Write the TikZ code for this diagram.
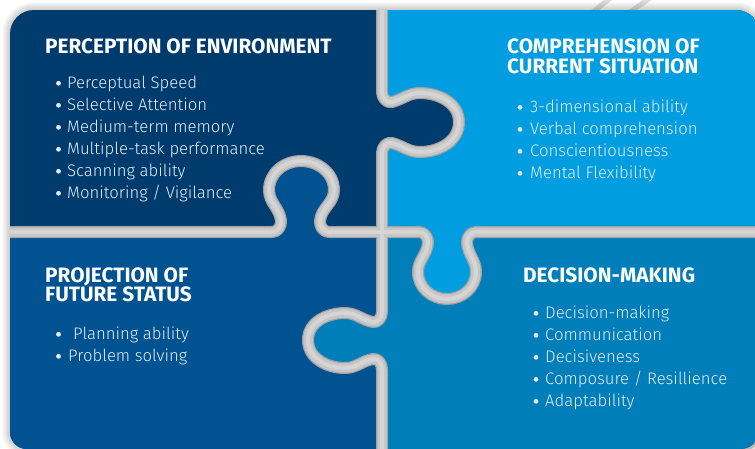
\documentclass[tikz,border=0pt]{standalone}
\usepackage{fontspec}
\setmainfont{Fira Sans}
\newfontfamily\itemfont{Fira Sans Light}

\definecolor{navy}{HTML}{003B6E}
\definecolor{skyblue}{HTML}{009EE0}
\definecolor{midblue}{HTML}{005291}
\definecolor{seablue}{HTML}{007EB9}
\definecolor{bandedge}{HTML}{A2A2A2}
\definecolor{bandmid}{HTML}{C6C6C6}
\definecolor{bandlight}{HTML}{D5D5D5}
\definecolor{itemtext}{HTML}{E4EEF6}
\definecolor{stripegray}{HTML}{DCDCDC}

% outline of the whole puzzle
\newcommand\puzzleoutline{(10,-34) arc[start angle=180,end angle=90,radius=24] -- (736,-10)
  arc[start angle=90,end angle=0,radius=24] -- (760,-429)
  arc[start angle=0,end angle=-90,radius=20] -- (27,-449)
  arc[start angle=270,end angle=180,radius=17] -- cycle}

% horizontal cut, left half: knob of the lower-left piece pointing up
\newcommand\hcutleft{(-10,-232) -- (272,-232) to[out=0,in=-85] (281,-221)
  to[out=95,in=-90] (269,-190) to[out=90,in=180] (301,-161)
  to[out=0,in=90] (334,-190) to[out=-90,in=85] (320,-221)
  to[out=-95,in=180] (329,-232) -- (382,-232)}
% horizontal cut, right half: knob of the upper-right piece pointing down
\newcommand\hcutright{(382,-232) -- (419,-232) to[out=0,in=85] (428,-243)
  to[out=-95,in=90] (418,-272) to[out=-90,in=180] (447,-299)
  to[out=0,in=-90] (476,-272) to[out=90,in=-85] (467,-243)
  to[out=95,in=180] (476,-232) -- (770,-232)}
% vertical cut, upper half: knob of the upper-left piece pointing right
\newcommand\vcuttop{(382,10) -- (382,-92) to[out=-90,in=195] (392,-102)
  to[out=15,in=180] (420,-93) to[out=0,in=90] (459,-122)
  to[out=-90,in=0] (420,-152) to[out=180,in=-15] (392,-143)
  to[out=165,in=90] (382,-153) -- (382,-232)}
% vertical cut, lower half: knob of the lower-right piece pointing left
\newcommand\vcutbottom{(382,-232) -- (382,-312) to[out=-90,in=-10] (373,-322)
  to[out=170,in=0] (345,-313) to[out=180,in=90] (308,-340)
  to[out=-90,in=180] (345,-368) to[out=0,in=190] (373,-359)
  to[out=10,in=90] (382,-369) -- (382,-460)}

\tikzset{
  x=1pt, y=1pt,
  title/.style={anchor=base west, inner sep=0pt, text=white,
    font=\fontsize{20.8}{21}\selectfont\bfseries},
  item/.style={anchor=base west, inner sep=0pt, text=itemtext,
    font=\itemfont\fontsize{16.7}{22}\selectfont},
  dot/.style={fill=itemtext},
  stripe/.style={stripegray, line width=5pt},
}

\begin{document}
\begin{tikzpicture}
\useasboundingbox (0,0) rectangle (755,-448);
\clip (0,0) rectangle (755,-448);
\fill[white] (0,0) rectangle (755,-448);

% background stripes
\draw[stripe] (590,-14) -- (613,4);
\draw[stripe] (627,-14) -- (653,4);
\draw[stripe] (744,-452) -- (762,-437);

% soft shadow around the puzzle
\foreach \w in {2,4,...,16}
  \draw[line width=\w pt, black, opacity=0.022] \puzzleoutline;

\begin{scope}
  \clip \puzzleoutline;
  % upper-left piece
  \fill[navy] (0,20) rectangle (770,-460);
  % lower half
  \fill[seablue] (-10,-232) rectangle (770,-460);
  % lower-left piece
  \fill[midblue] \hcutleft -- \vcutbottom -- (-10,-460) -- cycle;
  % upper-right piece
  \fill[skyblue] \vcuttop -- \hcutright -- (770,10) -- cycle;
  % silver seams between the pieces
  \foreach \c/\w in {bandedge/12, bandmid/9.5, bandlight/4} {
    \draw[line width=\w pt, \c, line join=round] \hcutleft -- \hcutright;
    \draw[line width=\w pt, \c, line join=round] \vcuttop -- \vcutbottom;
  }
\end{scope}

% perception of environment
\node[title] (pe) at (45,-53) {PERCEPTION OF ENVIRONMENT};
\foreach \t [count=\i] in {Perceptual Speed, Selective Attention, Medium-term memory,
    Multiple-task performance, Scanning ability, Monitoring / Vigilance} {
  \node[item] (pe\i) at (67,{-88-22*(\i-1)}) {\t};
  \fill[dot] (pe\i.base west) ++(-8.5,4.7) circle[radius=2.4];
}

% comprehension of current situation
\node[title] (cs1) at (507,-53) {COMPREHENSION OF};
\node[title] (cs2) at (507,-73) {CURRENT SITUATION};
\foreach \t [count=\i] in {3-dimensional ability, Verbal comprehension,
    Conscientiousness, Mental Flexibility} {
  \node[item] (cs\i) at (530,{-112-22*(\i-1)}) {\t};
  \fill[dot] (cs\i.base west) ++(-10,4.7) circle[radius=2.4];
}

% projection of future status
\node[title] (pf1) at (45,-282) {PROJECTION OF};
\node[title] (pf2) at (45,-301) {FUTURE STATUS};
\node[item] (pfa) at (73,-339) {Planning ability};
\fill[dot] (pfa.base west) ++(-14.5,4.7) circle[radius=2.4];
\node[item] (pfb) at (68,-361) {Problem solving};
\fill[dot] (pfb.base west) ++(-9.5,4.7) circle[radius=2.4];

% decision-making
\node[title] (dm) at (523,-282) {DECISION-MAKING};
\foreach \t [count=\i] in {Decision-making, Communication, Decisiveness,
    Composure / Resillience, Adaptability} {
  \node[item] (dm\i) at (545,{-318-22*(\i-1)}) {\t};
  \fill[dot] (dm\i.base west) ++(-9,4.7) circle[radius=2.4];
}
\end{tikzpicture}
\end{document}
